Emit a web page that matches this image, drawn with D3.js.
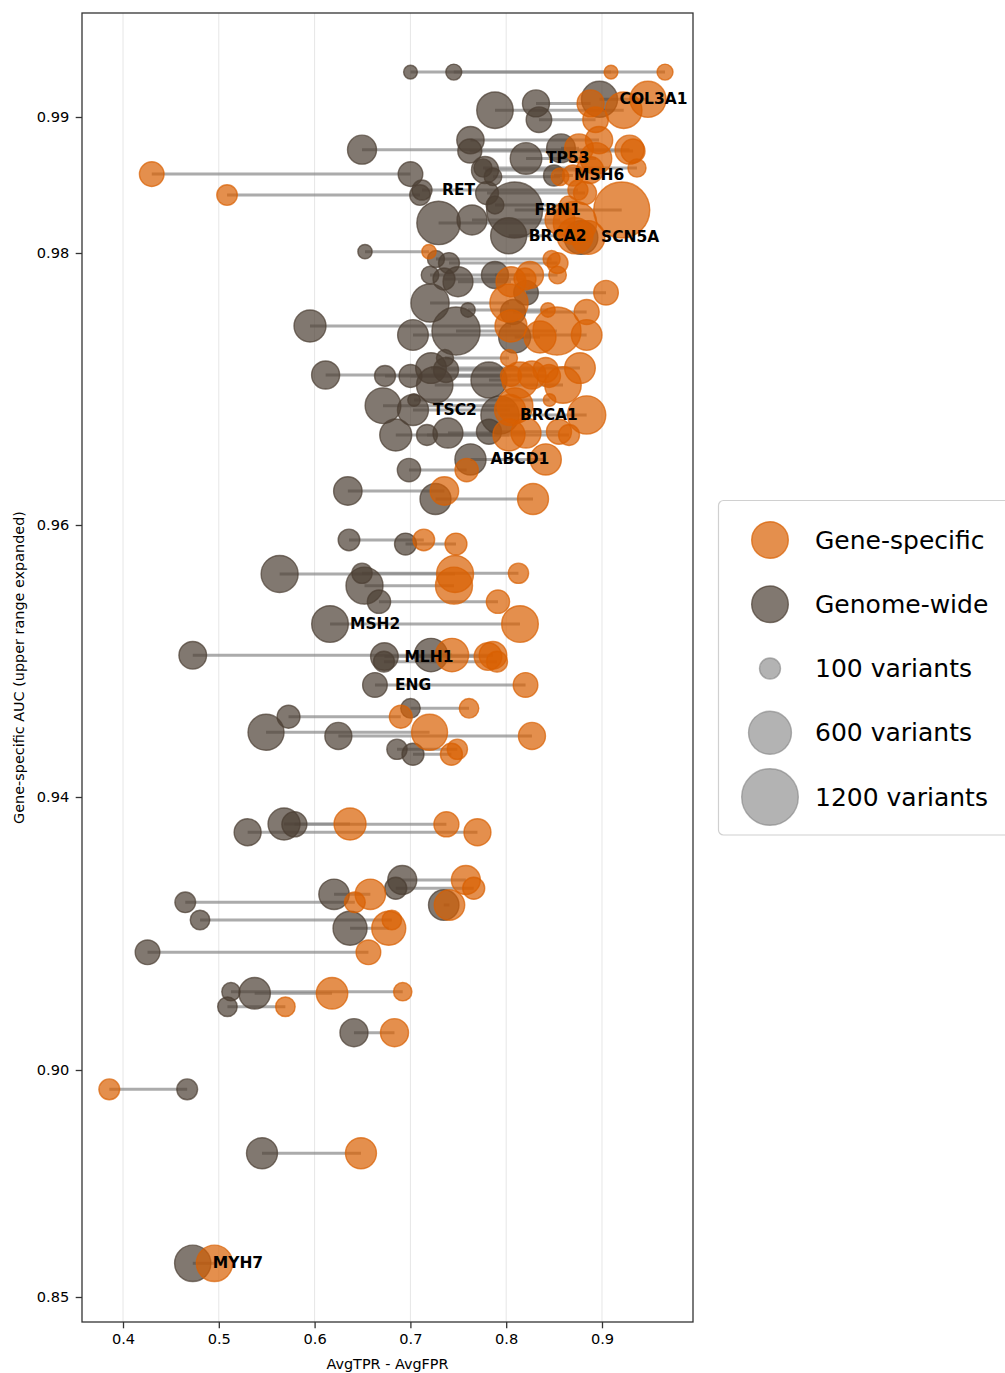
<!DOCTYPE html>
<html>
<head>
<meta charset="utf-8">
<script src="https://cdn.jsdelivr.net/npm/d3@7"></script>
<style>
  html, body { margin: 0; padding: 0; background: #fff; overflow: hidden; }
  text { font-family: "DejaVu Sans", "Liberation Sans", sans-serif; }
</style>
</head>
<body>
<svg id="chart" width="1005" height="1373"></svg>
<script>
// ---- data: one entry per gene (top of chart to bottom) ----
const geneLabels = [
  "", "", "COL3A1", "", "", "", "", "", "", "",
  "TP53", "", "", "", "MSH6", "", "", "RET", "", "",
  "FBN1", "", "", "BRCA2", "SCN5A", "", "", "", "", "",
  "", "", "", "", "", "", "", "", "", "",
  "", "", "", "", "", "", "", "", "", "",
  "TSC2", "BRCA1", "", "", "", "", "ABCD1", "", "", "",
  "", "", "", "", "", "", "MSH2", "", "MLH1", "",
  "", "ENG", "", "", "", "", "", "", "", "",
  "", "", "", "", "", "", "", "", "", "",
  "", "", "", "", "", "MYH7"
];
// gene-specific AUC (y position of each gene)
const geneSpecificAUC = [
  0.9933, 0.9933, 0.9913, 0.9910, 0.9905, 0.9898, 0.9883, 0.9876, 0.9875, 0.9877,
  0.98695, 0.98625, 0.9861, 0.9858, 0.9857, 0.9856, 0.98426, 0.98463, 0.98441, 0.98353,
  0.98316, 0.98221, 0.98243, 0.98127, 0.98114, 0.9801, 0.97956, 0.97926, 0.97838, 0.97838,
  0.97789, 0.97809, 0.97708, 0.97632, 0.97581, 0.97566, 0.97463, 0.97426, 0.97397, 0.97382,
  0.97228, 0.97103, 0.97096, 0.97096, 0.97154, 0.9714, 0.97029, 0.97066, 0.96919, 0.96877,
  0.96846, 0.96809, 0.96662, 0.96662, 0.96676, 0.96686, 0.96482, 0.96404, 0.9625, 0.96191,
  0.9589, 0.9586, 0.9564, 0.95645, 0.95554, 0.95436, 0.95272, 0.95042, 0.95033, 0.95044,
  0.94995, 0.94824, 0.94652, 0.9459, 0.94476, 0.94449, 0.94351, 0.94314, 0.93604, 0.9360,
  0.93483, 0.92784, 0.92662, 0.92574, 0.92457, 0.92418, 0.92198, 0.92076, 0.91725, 0.91147,
  0.91124, 0.90927, 0.90547, 0.89575, 0.88165, 0.85742
];
// AvgTPR - AvgFPR of the gene-specific threshold
const scoreGeneSpecific = [
  0.9094, 0.9658, 0.9480, 0.8881, 0.9227, 0.8933, 0.8969, 0.9287, 0.9324, 0.8760,
  0.8937, 0.9365, 0.8875, 0.4300, 0.8697, 0.8562, 0.5086, 0.8749, 0.8823, 0.8650,
  0.9206, 0.8718, 0.8562, 0.8718, 0.8854, 0.7194, 0.8474, 0.8536, 0.8536, 0.8248,
  0.8050, 0.8196, 0.9042, 0.8029, 0.8436, 0.8840, 0.8050, 0.8530, 0.8840, 0.8353,
  0.8029, 0.8269, 0.8050, 0.8447, 0.8770, 0.8412, 0.8593, 0.8144, 0.8453, 0.8092,
  0.8040, 0.8840, 0.8029, 0.8656, 0.8207, 0.8551, 0.8413, 0.7587, 0.7355, 0.8280,
  0.7140, 0.7476, 0.7466, 0.8128, 0.7455, 0.7914, 0.8144, 0.7862, 0.7810, 0.7434,
  0.7904, 0.8202, 0.7612, 0.6900, 0.7200, 0.8269, 0.7490, 0.7428, 0.6370, 0.7376,
  0.7700, 0.7579, 0.7661, 0.6582, 0.6420, 0.7408, 0.6806, 0.6774, 0.6562, 0.6920,
  0.6182, 0.5695, 0.6834, 0.3857, 0.6484, 0.4955
];
// AvgTPR - AvgFPR of the genome-wide threshold
const scoreGenomeWide = [
  0.7001, 0.7453, 0.8974, 0.8311, 0.7883, 0.8342, 0.7627, 0.6495, 0.7620, 0.8572,
  0.8207, 0.7758, 0.7779, 0.7001, 0.8499, 0.7862, 0.7100, 0.7121, 0.7800, 0.7883,
  0.8088, 0.7294, 0.7643, 0.8026, 0.8781, 0.6526, 0.7267, 0.7403, 0.7205, 0.7883,
  0.7497, 0.7351, 0.8207, 0.7205, 0.7601, 0.8071, 0.5952, 0.7476, 0.7027, 0.8088,
  0.7361, 0.6115, 0.6735, 0.7001, 0.7215, 0.7372, 0.7254, 0.7820, 0.7038, 0.6714,
  0.7027, 0.7935, 0.6847, 0.7173, 0.7392, 0.7820, 0.7627, 0.6985, 0.6347, 0.7262,
  0.6359, 0.6949, 0.5635, 0.6495, 0.6521, 0.6672, 0.6161, 0.4728, 0.6729, 0.7215,
  0.6724, 0.6630, 0.7001, 0.5728, 0.5493, 0.6248, 0.6860, 0.7027, 0.5681, 0.5789,
  0.5301, 0.6915, 0.6847, 0.6203, 0.4650, 0.7348, 0.4804, 0.6370, 0.4256, 0.5127,
  0.5374, 0.5090, 0.6411, 0.4670, 0.5451, 0.4728
];
// number of variants per gene (marker size)
const variantCounts = [
  35, 51, 390, 189, 400, 165, 195, 225, 140, 220,
  280, 70, 190, 150, 100, 65, 95, 90, 126, 68,
  1170, 620, 245, 390, 330, 38, 60, 100, 65, 190,
  245, 113, 150, 450, 40, 156, 288, 800, 260, 288,
  60, 207, 100, 126, 260, 156, 400, 387, 28, 380,
  266, 450, 288, 100, 245, 156, 270, 130, 215, 266,
  108, 112, 415, 92, 415, 130, 405, 200, 200, 320,
  100, 150, 84, 125, 387, 189, 92, 113, 288, 156,
  189, 225, 113, 255, 97, 255, 84, 336, 150, 72,
  277, 84, 207, 98, 266, 395
];

const xTicks = [0.4, 0.5, 0.6, 0.7, 0.8, 0.9];
const yTicks = [0.85, 0.90, 0.94, 0.96, 0.98, 0.99];
// y axis is piecewise linear: the range above 0.94 gets 3x the space of 0.85-0.90
const yBreaks = [0.85, 0.90, 0.94, 0.99];
const sizeLegendCounts = [100, 600, 1200];
const seriesNames = ["Gene-specific", "Genome-wide"];

// ---- layout / style ----
const plot = { left: 82, right: 693, top: 13, bottom: 1322 };
const colors = { specific: "#d95f02", genome: "#4c3e33", sizeKey: "#808080" };
const labelOffset = 20;
const tickFont = 14.6;

const genes = geneLabels.map((label, i) => ({
  label,
  auc: geneSpecificAUC[i],
  specific: scoreGeneSpecific[i],
  genome: scoreGenomeWide[i],
  n: variantCounts[i]
}));

const svg = d3.select("#chart");

const x = d3.scaleLinear().domain([0.3572, 0.9950]).range([plot.left, plot.right]);
const y = d3.scaleLinear().domain(yBreaks).range([1297, 1070, 797, 117]);
const r = d3.scalePow().exponent(0.4).domain([0, 1200]).range([0, 28.3]);

// vertical grid
svg.append("g")
  .selectAll("line")
  .data(xTicks)
  .join("line")
  .attr("x1", d => x(d)).attr("x2", d => x(d))
  .attr("y1", plot.top).attr("y2", plot.bottom)
  .attr("stroke", "#e6e6e6").attr("stroke-width", 1);

// connectors between the two thresholds of each gene
svg.append("g")
  .selectAll("line")
  .data(genes)
  .join("line")
  .attr("x1", d => x(d.genome)).attr("x2", d => x(d.specific))
  .attr("y1", d => y(d.auc)).attr("y2", d => y(d.auc))
  .attr("stroke", "#888888").attr("stroke-opacity", 0.7)
  .attr("stroke-width", 3);

// genome-wide markers
svg.append("g")
  .selectAll("circle")
  .data(genes)
  .join("circle")
  .attr("cx", d => x(d.genome)).attr("cy", d => y(d.auc))
  .attr("r", d => r(d.n))
  .attr("fill", colors.genome).attr("fill-opacity", 0.7)
  .attr("stroke", colors.genome).attr("stroke-opacity", 0.7).attr("stroke-width", 1.4);

// gene-specific markers
svg.append("g")
  .selectAll("circle")
  .data(genes)
  .join("circle")
  .attr("cx", d => x(d.specific)).attr("cy", d => y(d.auc))
  .attr("r", d => r(d.n))
  .attr("fill", colors.specific).attr("fill-opacity", 0.7)
  .attr("stroke", colors.specific).attr("stroke-opacity", 0.7).attr("stroke-width", 1.4);

// gene labels next to the genome-wide marker
svg.append("g")
  .selectAll("text")
  .data(genes.filter(d => d.label))
  .join("text")
  .attr("x", d => x(d.genome) + labelOffset)
  .attr("y", d => y(d.auc))
  .attr("dominant-baseline", "central")
  .attr("font-size", 15.5).attr("font-weight", "bold").attr("fill", "#000")
  .text(d => d.label);

// axes
const xAxis = svg.append("g")
  .attr("transform", `translate(0,${plot.bottom})`)
  .call(d3.axisBottom(x).tickValues(xTicks).tickFormat(d3.format(".1f"))
    .tickSize(6.3).tickPadding(5));
const yAxis = svg.append("g")
  .attr("transform", `translate(${plot.left},0)`)
  .call(d3.axisLeft(y).tickValues(yTicks).tickFormat(d3.format(".2f"))
    .tickSize(6.3).tickPadding(6.5));
[xAxis, yAxis].forEach(g => {
  g.select(".domain").remove();
  g.selectAll(".tick line").attr("stroke", "#333").attr("stroke-width", 1.3);
  g.selectAll(".tick text").attr("font-size", tickFont).attr("fill", "#000")
    .attr("font-family", "DejaVu Sans");
});

// frame
svg.append("rect")
  .attr("x", plot.left).attr("y", plot.top)
  .attr("width", plot.right - plot.left).attr("height", plot.bottom - plot.top)
  .attr("fill", "none").attr("stroke", "#333").attr("stroke-width", 1.3);

// axis titles
svg.append("text")
  .attr("x", (plot.left + plot.right) / 2).attr("y", 1364)
  .attr("text-anchor", "middle").attr("dominant-baseline", "central")
  .attr("font-size", 14.4).text("AvgTPR - AvgFPR");
svg.append("text")
  .attr("transform", `translate(19,${(plot.top + plot.bottom) / 2}) rotate(-90)`)
  .attr("text-anchor", "middle").attr("dominant-baseline", "central")
  .attr("font-size", 14.4).text("Gene-specific AUC (upper range expanded)");

// legend
const legend = svg.append("g");
legend.append("rect")
  .attr("x", 718.5).attr("y", 500.5).attr("width", 320).attr("height", 334.5)
  .attr("rx", 5).attr("fill", "#fff").attr("stroke", "#d0d0d0").attr("stroke-width", 1.2);

const legendItems = [
  { name: seriesNames[0], color: colors.specific, radius: 18.3, opacity: 0.7 },
  { name: seriesNames[1], color: colors.genome, radius: 18.3, opacity: 0.7 },
  ...sizeLegendCounts.map(n => ({ name: `${n} variants`, color: colors.sizeKey, radius: r(n), opacity: 0.6 }))
];
const rowY = d3.scaleLinear().domain([0, legendItems.length - 1]).range([540, 797]);
const item = legend.selectAll("g.item")
  .data(legendItems)
  .join("g")
  .attr("class", "item")
  .attr("transform", (d, i) => `translate(0,${rowY(i)})`);
item.append("circle")
  .attr("cx", 770).attr("cy", 0).attr("r", d => d.radius)
  .attr("fill", d => d.color).attr("fill-opacity", d => d.opacity)
  .attr("stroke", d => d.color).attr("stroke-opacity", d => d.opacity).attr("stroke-width", 1.4);
item.append("text")
  .attr("x", 815).attr("y", 0).attr("dominant-baseline", "central")
  .attr("font-size", 25).attr("fill", "#000")
  .text(d => d.name);
</script>
</body>
</html>
